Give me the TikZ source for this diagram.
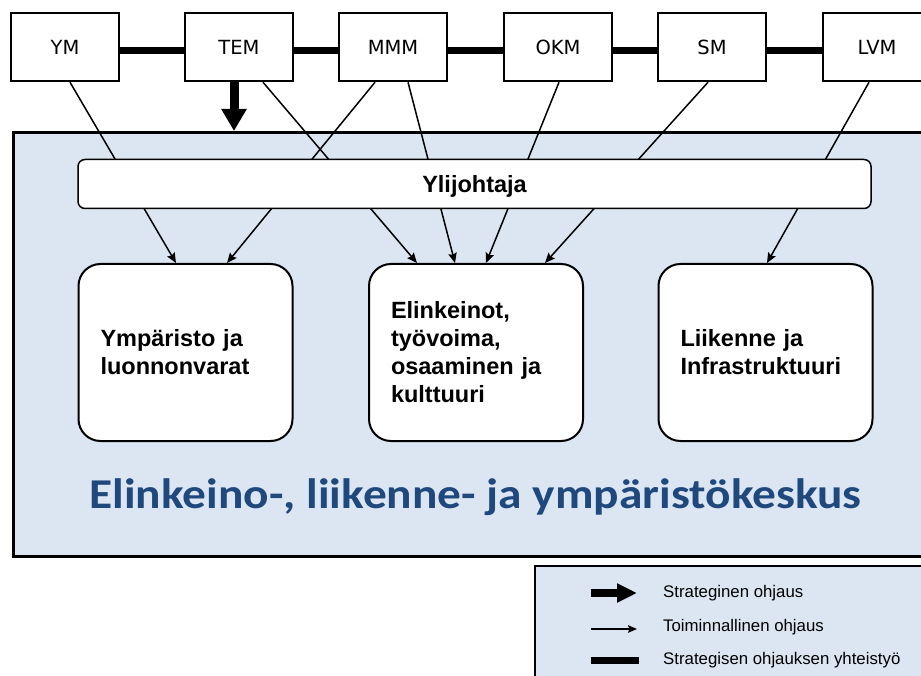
\documentclass[tikz,border=0pt]{standalone}
\usepackage{fontspec}
\usepackage{graphicx}
\setmainfont{Liberation Sans}
\newfontfamily\topfont{DejaVu Sans}
\newfontfamily\titlefont{Carlito}
\usetikzlibrary{arrows.meta}
\definecolor{elyblue}{RGB}{220,230,242}
\definecolor{titleblue}{RGB}{31,73,125}
\begin{document}
\begin{tikzpicture}[x=1pt,y=-1pt,
  ministry/.style={draw, line width=2.5pt, fill=white, minimum width=108pt, minimum height=68pt, inner sep=0pt, font=\topfont\fontsize{19.5}{22}\selectfont},
  coop/.style={line width=7pt},
  strat/.style={line width=9pt, -{Triangle[length=22pt,width=24pt]}},
  oper/.style={line width=1.5pt, -{Stealth[length=10pt,width=8.5pt,inset=1.5pt]}},
  area/.style={draw, line width=2pt, fill=white, rounded corners=22pt, minimum width=214pt, minimum height=177pt, text width=170pt, inner xsep=22pt, inner ysep=0pt, align=left, font=\bfseries\fontsize{23.5}{28}\selectfont},
  chief/.style={draw, line width=1.5pt, fill=white, rounded corners=7pt, minimum width=793pt, minimum height=49pt, inner sep=0pt, text depth=0pt, font=\bfseries\fontsize{23.5}{28}\selectfont},
  bigbox/.style={draw, line width=3pt, fill=elyblue, inner sep=0pt, anchor=north west},
  legtext/.style={anchor=west, inner sep=0pt, font=\fontsize{16.8}{19}\selectfont}
]
\useasboundingbox (0,0) rectangle (921,676);
\clip (0,0) rectangle (921,676);

% main centre box
\node[bigbox, minimum width=930pt, minimum height=423.7pt] (ely) at (12,131) {};

% ministries
\node[ministry] (YM)  at (65,47)  {YM};
\node[ministry] (TEM) at (239,47) {TEM};
\node[ministry] (MMM) at (393,47) {MMM};
\node[ministry] (OKM) at (558,47) {OKM};
\node[ministry] (SM)  at (712,47) {SM};
\node[ministry] (LVM) at (877,47) {LVM};

% cooperation lines
\draw[coop] ([yshift=-4pt]YM.east)  -- ([yshift=-4pt]TEM.west);
\draw[coop] ([yshift=-4pt]TEM.east) -- ([yshift=-4pt]MMM.west);
\draw[coop] ([yshift=-4pt]MMM.east) -- ([yshift=-4pt]OKM.west);
\draw[coop] ([yshift=-4pt]OKM.east) -- ([yshift=-4pt]SM.west);
\draw[coop] ([yshift=-4pt]SM.east)  -- ([yshift=-4pt]LVM.west);

% strategic steering arrow
\draw[strat] ([xshift=-5pt]TEM.south) -- ([xshift=-5pt]TEM.south |- ely.north);

% areas
\node[area] (A1) at (185.5,352.5) {Ympäristo ja\\luonnonvarat};
\node[area] (A2) at (476,352.5) {Elinkeinot,\\työvoima,\\osaaminen ja\\kulttuuri};
\node[area] (A3) at (765.5,352.5) {Liikenne ja\\Infrastruktuuri};

% operative steering
\draw[oper] ([xshift=5pt]YM.south)   -- ([xshift=-9.5pt]A1.north);
\draw[oper] ([xshift=24pt]TEM.south) -- ([xshift=-59pt]A2.north);
\draw[oper] ([xshift=-18pt]MMM.south) -- ([xshift=41.5pt]A1.north);
\draw[oper] ([xshift=15pt]MMM.south) -- ([xshift=-21pt]A2.north);
\draw[oper] ([xshift=1pt]OKM.south)  -- ([xshift=10pt]A2.north);
\draw[oper] ([xshift=-4pt]SM.south)  -- ([xshift=69pt]A2.north);
\draw[oper] ([xshift=-8pt]LVM.south) -- ([xshift=1.5pt]A3.north);

% director
\node[chief] (chief) at (474.5,184) {Ylijohtaja};

% title
\node[font=\titlefont\bfseries\fontsize{42.5}{48}\selectfont, text=titleblue, anchor=base, inner sep=0pt] (title) at (475.5,508) {\scalebox{1.115}[1]{Elinkeino-, liikenne- ja ympäristökeskus}};

% legend
\node[draw, line width=2pt, fill=elyblue, anchor=north west, minimum width=400pt, minimum height=130pt, inner sep=0pt] (legend) at (533.7,565) {};
\coordinate (l1a) at (591,593);
\coordinate (l1b) at (637,593);
\coordinate (l2a) at (591,629);
\coordinate (l2b) at (637,629);
\coordinate (l3a) at (591,660);
\coordinate (l3b) at (639,660);
\draw[line width=8pt, -{Triangle[length=20pt,width=18pt]}] (l1a) -- (l1b);
\draw[line width=1.5pt, -{Stealth[length=9pt,width=7.5pt,inset=1.5pt]}] (l2a) -- (l2b);
\draw[line width=7pt] (l3a) -- (l3b);
\node[legtext] (t1) at (663,593) {Strateginen ohjaus};
\node[legtext] (t2) at (663,627) {Toiminnallinen ohjaus};
\node[legtext] (t3) at (663,660) {Strategisen ohjauksen yhteistyö};
\end{tikzpicture}
\end{document}
